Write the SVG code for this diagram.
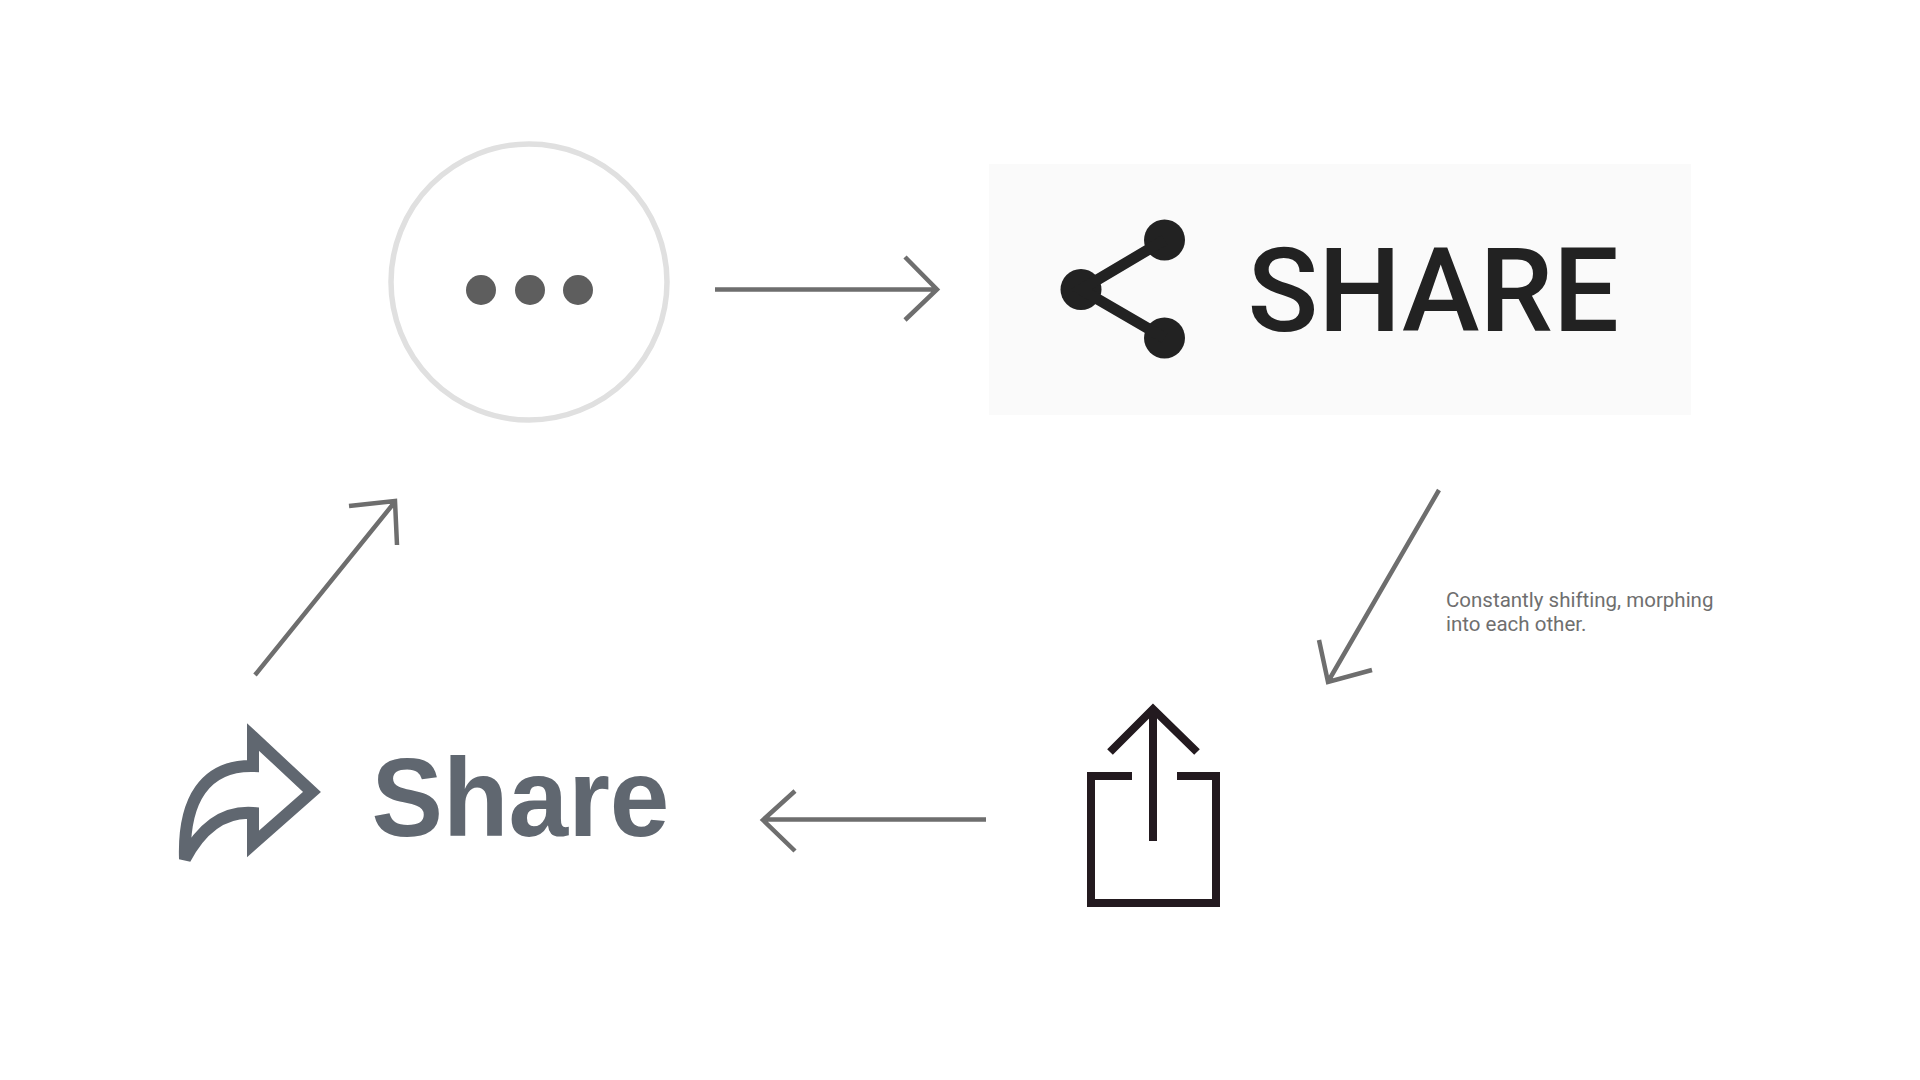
<svg xmlns="http://www.w3.org/2000/svg" width="1920" height="1080" viewBox="0 0 1920 1080">
<style>
.arrow{fill:none;stroke:#6e6e6e;stroke-width:4.500}
.up{fill:none;stroke:#231a1f;stroke-width:8}
</style>
<rect width="1920" height="1080" fill="#fff"/>
<g id="node-more">
<circle cx="529" cy="282" r="138" fill="#fff" stroke="#e0e0e0" stroke-width="5.500"/>
<circle cx="481" cy="290" r="15" fill="#5e5e5e"/>
<circle cx="530" cy="290" r="15" fill="#5e5e5e"/>
<circle cx="578" cy="290" r="15" fill="#5e5e5e"/>
</g>
<g id="node-share-android">
<rect x="989" y="164" width="702" height="251" fill="#fafafa"/>
<g fill="#222">
<circle cx="1164.500" cy="240" r="20.500"/>
<circle cx="1081" cy="289.500" r="20.500"/>
<circle cx="1164.500" cy="338" r="20.500"/>
</g>
<path d="M1164.500,240 L1081,289.500 L1164.500,338" fill="none" stroke="#222" stroke-width="11"/>
<text x="1247.500" y="331" font-family="Roboto, sans-serif" font-size="116.800" font-weight="500" fill="#222">SHARE</text>
</g>
<g id="node-share-ios">
<path class="up" d="M1091,776 H1132 M1177,776 H1216 M1091,772 V903 H1216 V772 M1153,709 V841 M1110,752 L1153,709 L1197,752"/>
</g>
<g id="node-share-fb">
<path d="M253,737 L312,792 L253,844 V813 C225,811 202,827 185,859 C183,800 205,765 253,766 Z" fill="none" stroke="#606770" stroke-width="12" stroke-miterlimit="2.800"/>
<text x="371.500" y="836" font-family="Liberation Sans, sans-serif" font-size="112" font-weight="700" fill="#606770" textLength="298" lengthAdjust="spacingAndGlyphs">Share</text>
</g>
<g id="connectors">
<path class="arrow" d="M715,289.500 H936 M905,257 L937,289.500 L905,320"/>
<path class="arrow" d="M1439,490 L1329,680 M1319,640 L1328,682 L1372,670"/>
<path class="arrow" d="M986,819.500 H764 M795,791 L763,820 L795,851"/>
<path class="arrow" d="M255,675 L394,503 M349,506 L395,501 L397,545"/>
</g>
<g id="note" font-family="Roboto, sans-serif" font-size="20.500" fill="#6f6f6f">
<text x="1446" y="607">Constantly shifting, morphing</text>
<text x="1446" y="631">into each other.</text>
</g>
</svg>
